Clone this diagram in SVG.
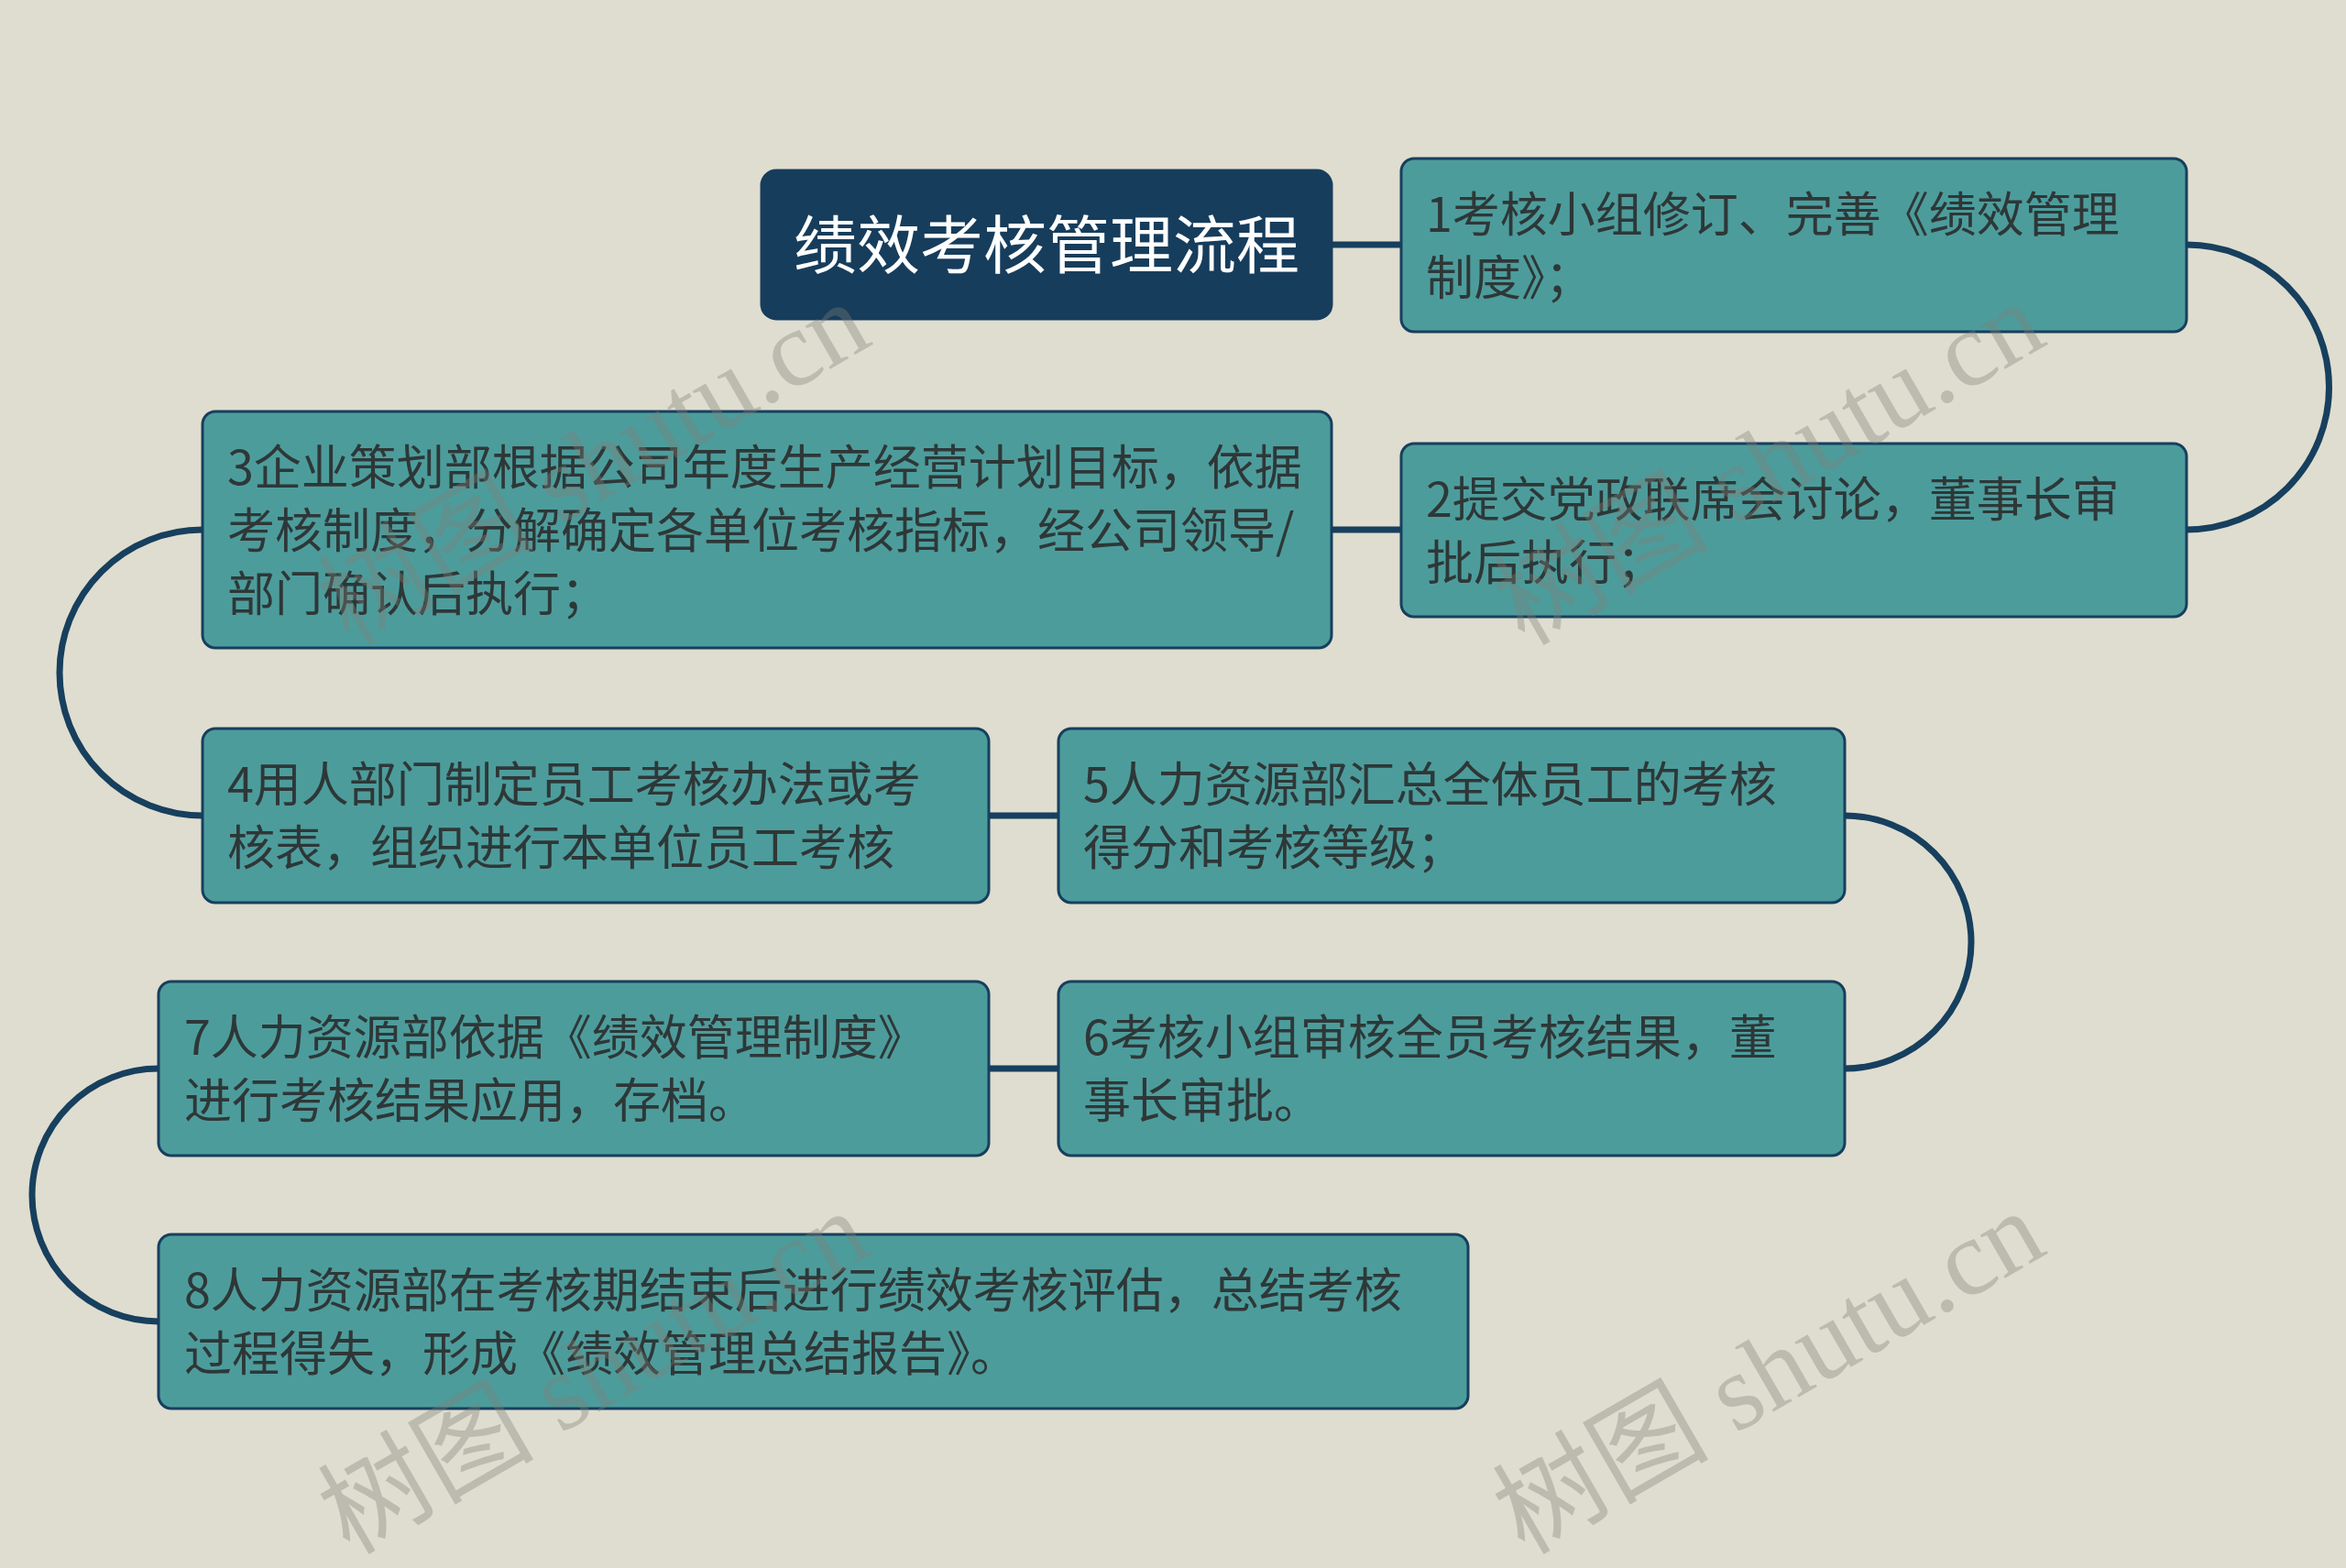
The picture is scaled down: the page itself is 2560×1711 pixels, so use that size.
<svg xmlns="http://www.w3.org/2000/svg" width="2560" height="1711" viewBox="0 0 2560 1711">
<style>
.bg{fill:#dfddcf}
.box{fill:#4d9c9c;stroke:#173f5e;stroke-width:3}
.title{fill:#173d5c;stroke:#173d5c;stroke-width:3}
.t{font-family:"Noto Sans CJK SC","Noto Sans",sans-serif;font-size:52px;fill:#2e3737}
.tt{font-family:"Noto Sans CJK SC","Noto Sans",sans-serif;font-size:69px;fill:#ffffff;text-anchor:middle}
.c{fill:none;stroke:#173f5e;stroke-width:7}
.wm{font-family:"Liberation Serif","Noto Sans CJK SC",serif;font-size:118px;fill:#808078;fill-opacity:0.36;text-anchor:middle}
</style>
<rect class="bg" x="0" y="0" width="2560" height="1711"/>
<g id="connectors">
<path class="c" d="M1453 267 H1529"/>
<path class="c" d="M2386 267 A155.5 155.5 0 0 1 2386 578"/>
<path class="c" d="M1529 578 H1453"/>
<path class="c" d="M221 578 A156 156 0 0 0 221 890"/>
<path class="c" d="M1079 890 H1155"/>
<path class="c" d="M2013 890 A138 138 0 0 1 2013 1166"/>
<path class="c" d="M1155 1166 H1079"/>
<path class="c" d="M173 1166 A138 138 0 0 0 173 1442"/>
</g>
<g id="root">
<rect class="title" x="831" y="186" width="622" height="162" rx="16"/>
<text class="tt" x="1142" y="293">绩效考核管理流程</text>
</g>
<g id="n1">
<rect class="box" x="1529" y="173" width="857" height="189" rx="14"/>
<text class="t" x="1556" y="253">1考核小组修订、完善《绩效管理</text>
<text class="t" x="1556" y="322">制度》；</text>
</g>
<g id="n2">
<rect class="box" x="1529" y="484" width="857" height="189" rx="14"/>
<text class="t" x="1556" y="564">2提交党政联席会讨论，董事长审</text>
<text class="t" x="1556" y="633">批后执行；</text>
</g>
<g id="n3">
<rect class="box" x="221" y="449" width="1232" height="258" rx="14"/>
<text class="t" x="248" y="529">3企业策划部根据公司年度生产经营计划目标，依据</text>
<text class="t" x="248" y="598">考核制度，分解确定各单位考核指标，经公司领导/</text>
<text class="t" x="248" y="667">部门确认后执行；</text>
</g>
<g id="n4">
<rect class="box" x="221" y="795" width="858" height="190" rx="14"/>
<text class="t" x="248" y="875">4用人部门制定员工考核办法或考</text>
<text class="t" x="248" y="944">核表，组织进行本单位员工考核</text>
</g>
<g id="n5">
<rect class="box" x="1155" y="795" width="858" height="190" rx="14"/>
<text class="t" x="1182" y="875">5人力资源部汇总全体员工的考核</text>
<text class="t" x="1182" y="944">得分和考核等级；</text>
</g>
<g id="n6">
<rect class="box" x="1155" y="1071" width="858" height="190" rx="14"/>
<text class="t" x="1182" y="1151">6考核小组审核全员考核结果，董</text>
<text class="t" x="1182" y="1220">事长审批。</text>
</g>
<g id="n7">
<rect class="box" x="173" y="1071" width="906" height="190" rx="14"/>
<text class="t" x="201" y="1151">7人力资源部依据《绩效管理制度》</text>
<text class="t" x="201" y="1220">进行考核结果应用，存档。</text>
</g>
<g id="n8">
<rect class="box" x="173" y="1347" width="1429" height="190" rx="14"/>
<text class="t" x="201" y="1427">8人力资源部在考核期结束后进行绩效考核评估，总结考核</text>
<text class="t" x="201" y="1496">过程得失，形成《绩效管理总结报告》。</text>
</g>
<g id="watermarks">
<text class="wm" transform="translate(668 540) rotate(-30)">树图 shutu.cn</text>
<text class="wm" transform="translate(1950 540) rotate(-30)">树图 shutu.cn</text>
<text class="wm" transform="translate(668 1532) rotate(-30)">树图 shutu.cn</text>
<text class="wm" transform="translate(1950 1532) rotate(-30)">树图 shutu.cn</text>
</g>
</svg>
